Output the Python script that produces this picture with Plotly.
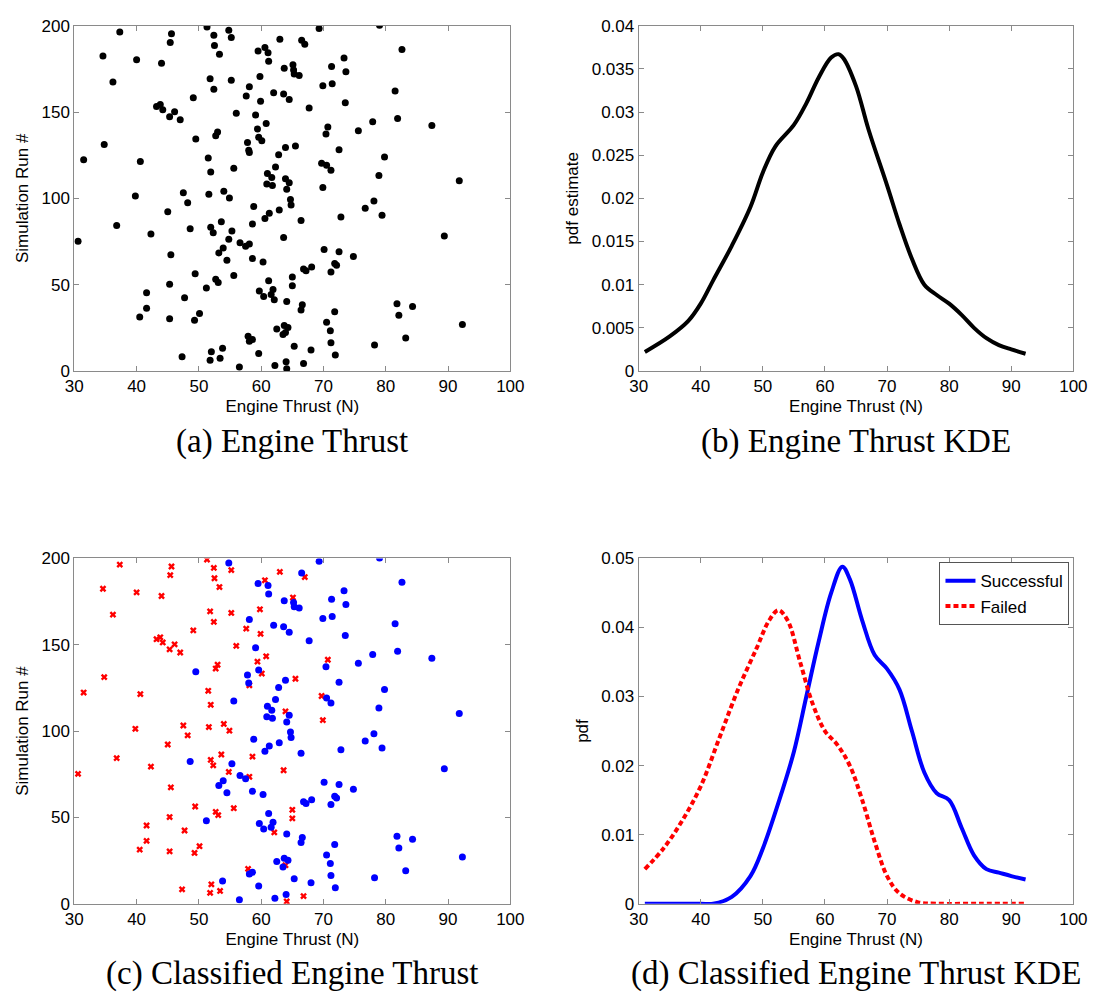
import plotly.graph_objects as go

# ---------------- data ----------------
failed_thrust = [37.3,45.6,45.4,34.6,40.0,44.0,36.2,43.2,43.8,44.2,46.1,45.3,47.0,34.8,31.5,40.6,39.8,47.5,48.2,45.0,
                 36.8,30.6,42.3,45.5,45.3,41.6,47.7,41.6,40.5,45.3,47.3,51.3,52.4,55.2,63.0,52.5,60.6,53.3,65.1,51.8,
                 55.2,59.8,52.4,49.1,57.6,59.9,56.0,60.8,59.4,53.0,52.7,60.1,58.1,65.5,51.5,51.9,63.9,51.6,54.0,54.9,
                 67.0,70.7,69.7,69.9,65.0,65.0,66.8,53.6,58.6,51.9,52.3,63.6,54.8,58.1,49.4,52.7,53.1,55.6,62.1,50.1,
                 49.3,63.9,57.9,52.0,51.8,53.4,64.1]
failed_run = [196.4,195.3,190.3,182.4,180.3,178.2,167.4,153.2,154.3,151.3,150.2,147.3,145.5,131.2,122.3,121.4,101.3,103.2,97.5,92.2,
              84.3,75.2,79.4,67.4,50.2,45.3,42.4,36.4,31.3,30.3,8.3,199.3,194.5,193.2,192.2,188.5,187.3,183.4,177.3,169.3,
              168.4,170.5,163.2,158.3,159.3,156.3,149.3,143.3,140.2,138.4,136.2,133.3,126.5,130.3,123.3,115.2,111.4,102.3,104.1,100.2,
              189.2,141.3,120.3,106.3,54.4,49.4,4.4,86.4,85.2,83.3,80.1,77.3,76.3,73.5,56.3,53.2,51.3,55.3,41.3,33.3,
              29.4,22.3,20.2,11.2,6.3,7.4,1.3]

success_thrust = [54.8,59.5,61.1,61.2,63.7,65.2,65.3,66.1,58.1,62.0,63.6,64.5,59.1,49.5,59.6,57.8,58.0,63.9,62.8,62.3,
                  55.6,61.0,61.7,64.5,60.9,61.8,64.1,64.7,69.3,79.0,66.5,82.6,73.3,71.3,73.6,69.9,71.4,81.5,67.7,73.5,
                  77.9,81.9,70.4,75.6,72.5,79.8,70.5,71.2,78.9,78.1,87.4,91.8,89.4,84.3,82.1,92.3,83.2,64.8,76.7,79.4,
                  72.8,66.4,70.1,72.5,74.8,71.8,72.1,68.1,66.8,67.2,71.2,81.8,66.6,66.4,71.8,70.5,71.1,71.2,78.2,65.3,
                  68.0,71.9,58.8,61.3,62.9,60.6,48.6,55.3,56.6,57.5,53.9,53.2,54.5,58.6,60.3,61.2,51.2,59.7,61.9,61.6,
                  60.4,64.1,62.5,63.7,64.3,63.5,58.1,58.6,53.8,59.6,62.2,64.0,56.5]
success_run = [197.3,185.4,184.3,179.4,175.4,174.4,172.0,171.2,164.6,161.2,160.4,157.2,148.3,134.3,135.4,132.4,127.8,129.4,125.2,118.2,
               117.4,114.4,112.1,109.1,108.3,107.4,105.3,99.4,198.3,200.2,191.5,186.2,181.3,176.3,173.3,165.2,166.3,162.1,152.3,155.3,
               144.3,146.2,137.3,139.2,128.2,124.0,119.1,116.3,113.3,98.5,142.2,110.2,78.2,37.3,32.3,27.0,19.1,96.2,94.3,90.2,
               89.2,87.1,70.3,69.1,66.3,62.3,61.2,60.2,59.1,58.1,57.4,39.0,38.4,35.4,34.3,28.2,23.3,16.3,15.1,14.4,
               12.1,9.3,95.3,91.3,93.2,88.3,82.4,81.1,74.3,72.3,71.2,68.4,64.2,65.1,63.2,52.3,48.1,46.4,47.2,44.3,
               43.2,40.3,24.4,26.3,25.2,21.2,17.2,18.2,13.2,10.2,3.2,5.3,2.3]

all_thrust = failed_thrust + success_thrust
all_run = failed_run + success_run

kde_x = [31, 35, 38, 40, 42, 45, 48, 50, 52, 55, 57, 59, 61, 62.2, 63, 65, 67, 70, 72, 74, 76, 78, 80, 82, 84, 86, 88, 90, 92.3]
kde_all = [0.0022, 0.004, 0.0058, 0.0078, 0.0105, 0.0145, 0.019, 0.023, 0.026, 0.0285, 0.031, 0.034, 0.0363, 0.0367, 0.0362,
           0.033, 0.028, 0.0215, 0.017, 0.013, 0.010, 0.0088, 0.0078, 0.0065, 0.005, 0.0038, 0.003, 0.0025, 0.002]

kde_sx = [31, 35, 40, 42, 45, 48, 50, 53, 55, 57, 59, 61, 62.8, 64, 66, 68, 70, 72, 74, 76, 78, 80, 82, 84, 86, 88, 90, 92.3]
kde_succ = [0, 0, 0, 0, 0.001, 0.004, 0.008, 0.016, 0.022, 0.030, 0.038, 0.045, 0.0488, 0.047, 0.041, 0.036, 0.034, 0.031,
            0.025, 0.019, 0.016, 0.015, 0.011, 0.007, 0.005, 0.0045, 0.004, 0.0035]

kde_fx = [31, 34, 37, 40, 43, 46, 49, 51, 52.5, 54, 56, 58, 60, 62, 64, 66, 68, 70, 72, 75, 78, 85, 92.3]
kde_fail = [0.005, 0.008, 0.012, 0.017, 0.024, 0.031, 0.037, 0.041, 0.0425, 0.041, 0.035, 0.029, 0.025, 0.023, 0.020,
            0.015, 0.009, 0.004, 0.0015, 0.0002, 0, 0, 0]

x_ticks = [30, 40, 50, 60, 70, 80, 90, 100]
run_ticks = [0, 50, 100, 150, 200]
pdf_ticks_b = [0, 0.005, 0.01, 0.015, 0.02, 0.025, 0.03, 0.035, 0.04]
pdf_labels_b = ["0", "0.005", "0.01", "0.015", "0.02", "0.025", "0.03", "0.035", "0.04"]
pdf_ticks_d = [0, 0.01, 0.02, 0.03, 0.04, 0.05]
pdf_labels_d = ["0", "0.01", "0.02", "0.03", "0.04", "0.05"]

# ---------------- figure ----------------
W, H = 1106, 1002
def px_x(p): return p / W
def px_y(p): return 1 - p / H

dom_left = [px_x(66.7), px_x(512)]
dom_right = [px_x(643), px_x(1087)]
dom_top = [px_y(369), px_y(17)]
dom_bot = [px_y(912), px_y(560)]

fig = go.Figure()

fig.add_trace(go.Scatter(x=all_thrust, y=all_run, mode="markers",
                         marker=dict(color="black", size=7), xaxis="x", yaxis="y", showlegend=False))
fig.add_trace(go.Scatter(x=kde_x, y=kde_all, mode="lines", line=dict(color="black", width=4, shape="spline"),
                         xaxis="x2", yaxis="y2", showlegend=False))
fig.add_trace(go.Scatter(x=failed_thrust, y=failed_run, mode="markers",
                         marker=dict(color="red", size=6, symbol="x", line=dict(width=0)),
                         xaxis="x3", yaxis="y3", showlegend=False))
fig.add_trace(go.Scatter(x=success_thrust, y=success_run, mode="markers",
                         marker=dict(color="blue", size=7), xaxis="x3", yaxis="y3", showlegend=False))
fig.add_trace(go.Scatter(x=kde_sx, y=kde_succ, mode="lines", name="Successful",
                         line=dict(color="blue", width=4, shape="spline"), xaxis="x4", yaxis="y4"))
fig.add_trace(go.Scatter(x=kde_fx, y=kde_fail, mode="lines", name="Failed",
                         line=dict(color="red", width=4, dash="5px,3px", shape="spline"), xaxis="x4", yaxis="y4"))

FONT = "Liberation Sans, Arial, Helvetica, sans-serif"
tickfont = dict(family=FONT, size=17, color="black")
titlefont = dict(family=FONT, size=17, color="black")
common = dict(showline=True, linecolor="#8a8a8a", linewidth=1, mirror="ticks", ticks="inside", ticklen=5,
              tickcolor="#8a8a8a", showgrid=False, zeroline=False, tickfont=tickfont)

def xax(domain, anchor):
    return dict(domain=domain, anchor=anchor, range=[30, 100], tickvals=x_ticks,
                title=dict(text="Engine Thrust (N)", font=titlefont, standoff=4), **common)

fig.update_layout(
    width=W, height=H, margin=dict(l=0, r=0, t=0, b=0),
    paper_bgcolor="white", plot_bgcolor="white",
    xaxis=xax(dom_left, "y"),
    yaxis=dict(domain=dom_top, anchor="x", range=[0, 200], tickvals=run_ticks,
               title=dict(text="Simulation Run #", font=titlefont, standoff=8), **common),
    xaxis2=xax(dom_right, "y2"),
    yaxis2=dict(domain=dom_top, anchor="x2", range=[0, 0.04], tickvals=pdf_ticks_b, ticktext=pdf_labels_b,
                title=dict(text="pdf estimate", font=titlefont, standoff=8), **common),
    xaxis3=xax(dom_left, "y3"),
    yaxis3=dict(domain=dom_bot, anchor="x3", range=[0, 200], tickvals=run_ticks,
                title=dict(text="Simulation Run #", font=titlefont, standoff=8), **common),
    xaxis4=xax(dom_right, "y4"),
    yaxis4=dict(domain=dom_bot, anchor="x4", range=[0, 0.05], tickvals=pdf_ticks_d, ticktext=pdf_labels_d,
                title=dict(text="pdf", font=titlefont, standoff=8), **common),
    legend=dict(x=px_x(1083), y=px_y(564), xanchor="right", yanchor="top",
                bgcolor="white", bordercolor="#555", borderwidth=1,
                font=dict(family=FONT, size=17, color="black"),
                tracegroupgap=0, itemwidth=30),
)

capfont = dict(family="Liberation Serif, Times New Roman, serif", size=33, color="black")
captions = [("(a) Engine Thrust", (dom_left[0] + dom_left[1]) / 2, px_y(441)),
            ("(b) Engine Thrust KDE", (dom_right[0] + dom_right[1]) / 2, px_y(441)),
            ("(c) Classified Engine Thrust", (dom_left[0] + dom_left[1]) / 2, px_y(983)),
            ("(d) Classified Engine Thrust KDE", (dom_right[0] + dom_right[1]) / 2, px_y(983))]
for text, x, y in captions:
    fig.add_annotation(text=text, x=x, y=y, xref="paper", yref="paper", showarrow=False,
                       font=capfont, xanchor="center", yanchor="middle")

fig.write_html("out.html")
